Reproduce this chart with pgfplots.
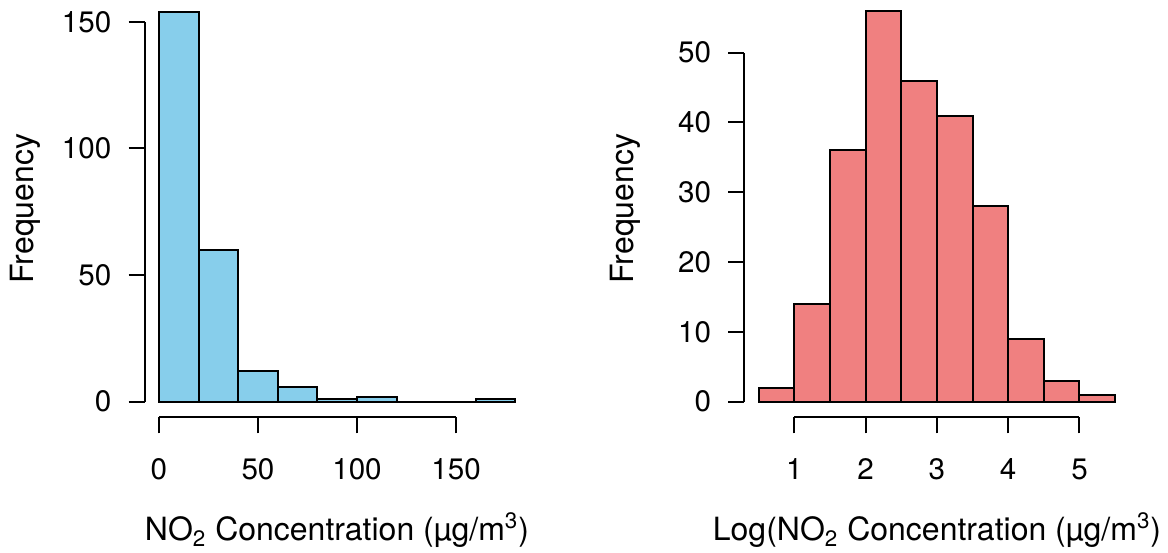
\documentclass[border=0pt]{standalone}
\usepackage{fontspec}
\setmainfont{TeX Gyre Heros}
\usepackage{pgfplots}
\pgfplotsset{compat=1.18}
\definecolor{skyblue}{RGB}{135,206,235}
\definecolor{lightcoral}{RGB}{240,128,128}
\newcommand{\fs}{\fontsize{14.8}{16}\selectfont}
\newcommand{\fl}{\fontsize{16}{18}\selectfont}
\begin{document}
\begin{tikzpicture}[x=0.5pt,y=0.5pt]
\useasboundingbox (0,0) rectangle (1168,552);
\pgfplotsset{
  hist/.style={
    scale only axis,
    width=192.5pt, height=208.65pt,
    anchor=south west,
    axis x line*=bottom, axis y line*=left,
    axis line style={draw=none},
    tick align=outside,
    major tick length=8pt,
    tick style={line width=1pt, black},
    /pgf/number format/assume math mode=true,
    ticklabel style={font=\fs, inner sep=0pt},
    xticklabel style={anchor=north},
    yticklabel style={anchor=east},
    xticklabel shift=12.5pt,
    yticklabel shift=8.5pt,
    clip=false,
  }
}
% Left histogram
\begin{axis}[hist, at={(72.35pt,67.35pt)},
  xmin=-7.2, xmax=187.2, ymin=-6.16, ymax=158.6,
  xtick={0,50,100,150}, ytick={0,50,100,150}]
\addplot[ybar interval, fill=skyblue, draw=black, line width=1pt] coordinates {
  (0,154) (20,60) (40,12) (60,6) (80,1) (100,2) (120,0) (140,0) (160,1) (180,1)};
\draw[line width=1pt] (axis cs:0,-6.16) -- (axis cs:150,-6.16);
\draw[line width=1pt] (axis cs:-7.2,0) -- (axis cs:-7.2,150);
\end{axis}
% Right histogram
\begin{axis}[hist, at={(372.2pt,67.35pt)},
  xmin=0.3, xmax=5.7, ymin=-2.24, ymax=57.55,
  xtick={1,2,3,4,5}, ytick={0,10,20,30,40,50}]
\addplot[ybar interval, fill=lightcoral, draw=black, line width=1pt] coordinates {
  (0.5,2) (1,14) (1.5,36) (2,56) (2.5,46) (3,41) (3.5,28) (4,9) (4.5,3) (5,1) (5.5,1)};
\draw[line width=1pt] (axis cs:1,-2.24) -- (axis cs:5,-2.24);
\draw[line width=1pt] (axis cs:0.3,0) -- (axis cs:0.3,50);
\end{axis}
% Axis labels
\node[rotate=90, anchor=base, inner sep=0pt, font=\fl] at (33,343.4) {Frequency};
\node[rotate=90, anchor=base, inner sep=0pt, font=\fl] at (633,343.4) {Frequency};
\node[anchor=base, inner sep=0pt, font=\fl] at (337,11) {NO\textsubscript{2} Concentration (µg/m\textsuperscript{3})};
\node[anchor=base, inner sep=0pt, font=\fl] at (937,11) {Log(NO\textsubscript{2} Concentration (µg/m\textsuperscript{3})};
\end{tikzpicture}
\end{document}
